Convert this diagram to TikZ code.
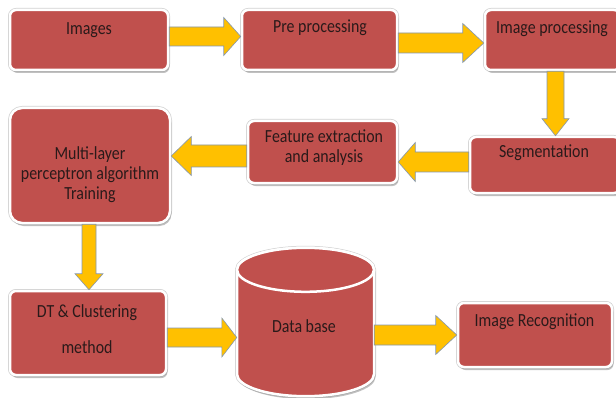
\documentclass[tikz,border=0pt]{standalone}
\usepackage{fontspec}
\setmainfont{Carlito}[FakeStretch=0.86]
\usetikzlibrary{calc,shadows}

\definecolor{boxred}{HTML}{C0504D}
\definecolor{arrowgold}{HTML}{FFC000}
\definecolor{arrowedge}{HTML}{8497B0}
\definecolor{textdark}{HTML}{2A1A1A}

\tikzset{
  box/.style={rectangle, rounded corners=6pt, fill=boxred, draw=white,
    line width=2.5pt, inner sep=0pt,
    preaction={draw=black!18, line width=4pt},
    drop shadow={shadow xshift=1.5pt, shadow yshift=-3pt, fill=black!45, opacity=.55}},
  lbl/.style={text=textdark, font=\fontsize{18.5}{20}\selectfont, align=center, inner sep=0pt},
  blockarrow/.style={fill=arrowgold, draw=arrowedge, line width=0.6pt, line join=miter},
  cylbody/.style={fill=boxred, draw=white, line width=2.5pt,
    preaction={draw=black!18, line width=4pt},
    drop shadow={shadow xshift=1.5pt, shadow yshift=-3pt, fill=black!45, opacity=.55}},
  cyltop/.style={fill=boxred, draw=white, line width=2.5pt},
}

% horizontal block arrow: from anchor, to anchor, centre y, shaft half width, head half width, head length
\newcommand{\harrow}[6]{%
  \draw[blockarrow] let \p1=(#1), \p2=(#2), \n1={sign(\x2-\x1)} in
    (\x1,#3+#4) -- (\x2-\n1*#6,#3+#4) -- (\x2-\n1*#6,#3+#5) -- (\x2,#3)
    -- (\x2-\n1*#6,#3-#5) -- (\x2-\n1*#6,#3-#4) -- (\x1,#3-#4) -- cycle;}
% vertical block arrow: from anchor, to anchor, centre x, shaft half width, head half width, head length
\newcommand{\varrow}[6]{%
  \draw[blockarrow] let \p1=(#1), \p2=(#2), \n1={sign(\y2-\y1)} in
    (#3-#4,\y1) -- (#3-#4,\y2-\n1*#6) -- (#3-#5,\y2-\n1*#6) -- (#3,\y2)
    -- (#3+#5,\y2-\n1*#6) -- (#3+#4,\y2-\n1*#6) -- (#3+#4,\y1) -- cycle;}

\begin{document}
\begin{tikzpicture}[x=1pt, y=1pt]
\useasboundingbox (0,0) rectangle (616,397);

% boxes
\node[box, minimum width=158pt, minimum height=60pt] (img)  at (89,357) {};
\node[box, minimum width=155pt, minimum height=60pt] (pre)  at (319.5,357) {};
\node[box, minimum width=135pt, minimum height=60pt] (proc) at (552.5,357) {};
\node[box, minimum width=150pt, minimum height=56pt] (seg)  at (545,232) {};
\node[box, minimum width=149pt, minimum height=62pt] (feat) at (322.5,245) {};
\node[box, rounded corners=12pt, minimum width=160pt, minimum height=115pt] (mlp) at (90,231.5) {};
\node[box, minimum width=156pt, minimum height=84pt] (dt)   at (88,64) {};
\node[box, minimum width=154pt, minimum height=64pt] (rec)  at (535,62) {};

% data base cylinder
\node[minimum width=137pt, minimum height=148pt, inner sep=0pt] (db) at (305.5,75) {};
\path (db.north) ++(0,-22) coordinate (dbtop);
\path (db.south) ++(0,22) coordinate (dbbot);
\path[cylbody] ([xshift=-68.5pt]dbtop) -- ([xshift=-68.5pt]dbbot)
  arc[start angle=180, end angle=360, x radius=68.5, y radius=22]
  -- ([xshift=68.5pt]dbtop)
  arc[start angle=0, end angle=180, x radius=68.5, y radius=22] -- cycle;
\path[cyltop] (dbtop) ellipse[x radius=68.5, y radius=22];

% labels
\node[lbl] (img-t)  at (89,367)  {Images};
\node[lbl] (pre-t)  at (320,369) {Pre processing};
\node[lbl] (proc-t) at (552,368) {Image processing};
\node[lbl] (seg-t)  at (544,244) {Segmentation};
\node[lbl] (feat-t) at (324,249) {Feature extraction\\and analysis};
\node[lbl] (mlp-t)  at (90,222)  {Multi-layer\\perceptron algorithm\\Training};
\node[lbl] (dt-t)   at (87,68)   {DT \& Clustering\\[16pt]method};
\node[lbl] (db-t)   at (304,71)  {Data base};
\node[lbl] (rec-t)  at (534.5,75) {Image Recognition};

% connectors
\harrow{img.east}{pre.west}{360.5}{9.5}{19}{17}
\harrow{pre.east}{proc.west}{354}{10}{19.5}{21}
\varrow{proc.south}{seg.north}{555.5}{8.5}{13.5}{17}
\harrow{seg.west}{feat.east}{235}{10}{19.5}{17}
\harrow{feat.west}{mlp.east}{241}{11}{19.5}{20}
\varrow{mlp.south}{dt.north}{89}{7}{14}{16}
\harrow{dt.east}{db.west}{59.5}{9.5}{19.5}{15}
\harrow{db.east}{rec.west}{62}{10}{19.5}{21}
\end{tikzpicture}
\end{document}
